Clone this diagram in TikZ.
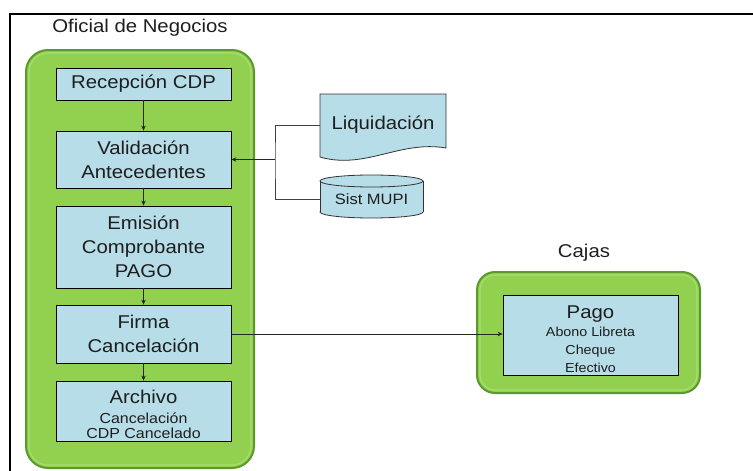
\documentclass[tikz,border=0pt]{standalone}
\usepackage{fontspec}
\setmainfont{Liberation Sans}[FakeStretch=1.1]
\usetikzlibrary{arrows.meta}
\definecolor{leaf}{HTML}{92D050}
\definecolor{leaflight}{HTML}{E6F2C8}
\definecolor{leafedge}{HTML}{5A9A2A}
\definecolor{leafshine}{HTML}{B4E284}
\definecolor{paleblue}{HTML}{B7DDE8}
\definecolor{ink}{HTML}{1E1E1E}
\newcommand\bigtxt{\fontsize{18.5}{24}\selectfont}
\newcommand\smalltxt{\fontsize{14.5}{15.5}\selectfont}
\newcommand\minitxt{\fontsize{13}{18}\selectfont}
% green that fades to pale near the bottom edge
\pgfdeclareverticalshading{lanefade}{100bp}{color(0bp)=(leaflight); color(22bp)=(leaf); color(100bp)=(leaf)}
\begin{document}
\begin{tikzpicture}[x=1pt,y=-1pt,
  lane/.style={rounded corners=22pt, draw=leafedge, line width=2pt,
    shading=lanefade, shading angle=0,
    inner sep=0pt, outer sep=0pt},
  shine/.style={draw=leafshine, line width=1.2pt, draw opacity=0.7, rounded corners=19pt},
  stepbox/.style={draw=black, line width=0.8pt, fill=paleblue, align=center,
    font=\bigtxt, text=ink, inner sep=0pt, minimum width=175pt},
  heading/.style={font=\bigtxt, text=ink, inner sep=0pt},
  flow/.style={draw=black!85, line width=0.8pt, -{Stealth[length=5pt,width=4.5pt]}},
  link/.style={draw=black!75, line width=0.8pt},
]
\useasboundingbox (0,0) rectangle (753,471);

% outer frame (left and top edges)
\draw[line width=2pt] (10,472) -- (10,14) -- (754,14);

% swimlane: Oficial de Negocios
\node[heading] (ofiTitle) at (140,28) {Oficial de Negocios};
\node[lane, minimum width=228pt, minimum height=418pt] (ofi) at (140,259) {};
\draw[shine] ([shift={(3,3)}]ofi.north west) rectangle ([shift={(-3,-3)}]ofi.south east);

\node[stepbox, minimum height=32pt] (rec) at (143.5,84) {Recepción CDP};
\node[stepbox, minimum height=57pt] (val) at (143.5,159.5) {Validación\\Antecedentes};
\node[stepbox, minimum height=82pt] (emi) at (143.5,247) {Emisión\\Comprobante\\PAGO};
\node[stepbox, minimum height=58pt] (fir) at (143.5,334) {Firma\\Cancelación};
\node[stepbox, minimum height=60pt, font=\smalltxt] (arc) at (143.5,411)
  {\rule{0pt}{21pt}\bigtxt Archivo\\[4pt]Cancelación\\CDP Cancelado};

\draw[flow] (rec) -- (val);
\draw[flow] (val) -- (emi);
\draw[flow] (emi) -- (fir);
\draw[flow] (fir) -- (arc);

% document: Liquidación
\filldraw[fill=paleblue, draw=black!80, line width=0.8pt]
  (320,94) -- (446,94) -- (446,148)
  .. controls (400,140) and (365,170) .. (320,157) -- cycle;
\node[heading, minimum width=126pt, minimum height=62pt] (liq) at (383,125) {Liquidación};

% database: Sist MUPI
\filldraw[fill=paleblue, draw=black!80, line width=0.8pt] (371.5,212) ellipse (51.5 and 6);
\fill[paleblue] (320,181) rectangle (423,212);
\draw[black!80, line width=0.8pt] (320,181) -- (320,212) (423,181) -- (423,212);
\filldraw[fill=paleblue, draw=black!80, line width=0.8pt] (371.5,181) ellipse (51.5 and 6);
\node[font=\fontsize{15}{18}\selectfont, text=ink, inner sep=0pt, minimum width=103pt, minimum height=43pt]
  (mupi) at (371.5,199) {Sist MUPI};

% inputs joined into one arrow
\coordinate (join) at (275,159.5);
\draw[link] (liq.west) -| (join) |- (mupi.west);
\draw[flow] (join) -- (val.east);

% swimlane: Cajas
\node[heading] (cajTitle) at (584,253) {Cajas};
\node[lane, rounded corners=18pt, minimum width=223pt, minimum height=121pt] (caj) at (588.5,332.5) {};
\draw[shine, rounded corners=15pt] ([shift={(3,3)}]caj.north west) rectangle ([shift={(-3,-3)}]caj.south east);
\node[stepbox, minimum width=175pt, minimum height=80pt, font=\minitxt] (pago) at (590.5,335)
  {\rule{0pt}{22pt}\bigtxt Pago\\Abono Libreta\\Cheque\\Efectivo};

\draw[flow] (fir.east) -- (pago.west |- fir.east);
\end{tikzpicture}
\end{document}
